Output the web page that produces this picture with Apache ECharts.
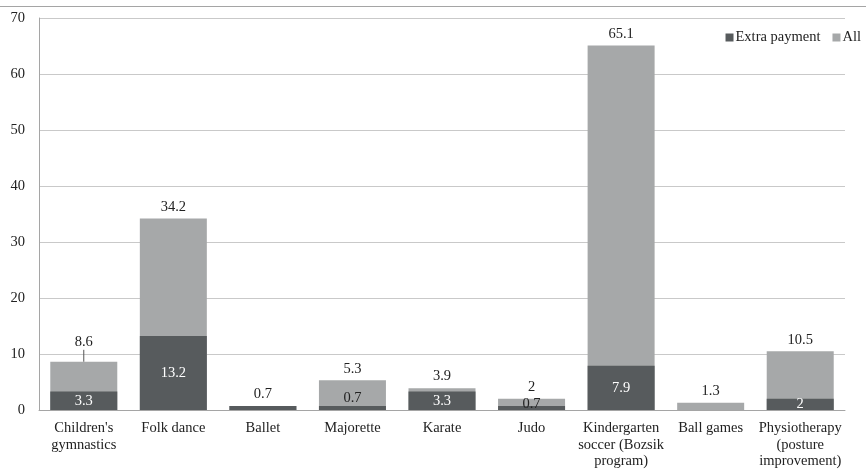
<!DOCTYPE html>
<html>
<head>
<meta charset="utf-8">
<script src="https://cdn.jsdelivr.net/npm/echarts@6/dist/echarts.min.js"></script>
<style>
  html, body { margin: 0; padding: 0; background: #fff; }
  #chart { width: 866px; height: 469px; }
</style>
</head>
<body>
<div id="chart"></div>
<script>
// Activity categories (line breaks as shown under the axis)
const categories = [
  "Children's\ngymnastics",
  "Folk dance",
  "Ballet",
  "Majorette",
  "Karate",
  "Judo",
  "Kindergarten\nsoccer (Bozsik\nprogram)",
  "Ball games",
  "Physiotherapy\n(posture\nimprovement)"
];
// Percent of children attending, all and with extra payment
const allValues = [8.6, 34.2, 0.7, 5.3, 3.9, 2, 65.1, 1.3, 10.5];
const extraValues = [3.3, 13.2, 0.7, 0.7, 3.3, 0.7, 7.9, 0, 2];
const yTicks = [0, 10, 20, 30, 40, 50, 60, 70];

const DARK = '#575b5d';
const LIGHT = '#a6a8a9';
const FONT = '"Liberation Serif", "Times New Roman", serif';

// The first "All" label sits a little higher, tied to its bar by a short guide line
const allData = allValues.map((v, i) => {
  const item = { value: v };
  if (i === 0) {
    item.labelLine = { show: true, lineStyle: { color: '#555', width: 1 } };
  }
  return item;
});

// Per-bar label tweaks for the extra-payment series
const extraData = extraValues.map((v, i) => {
  const item = { value: v };
  if (i === 2 || v === 0) {
    item.label = { show: false };
  } else if (i === 3) {
    item.label = { color: '#222', offset: [0, -10] };
  } else if (i === 5) {
    item.label = { color: '#222', offset: [0, -4] };
  }
  return item;
});

const chart = echarts.init(document.getElementById('chart'));
chart.setOption({
  animation: false,
  textStyle: { fontFamily: FONT },
  grid: { left: 39, right: 21, top: 18, bottom: 59, containLabel: false, outerBoundsMode: 'none' },
  legend: {
    data: ['Extra payment', 'All'],
    right: 0,
    top: 25,
    itemWidth: 8,
    itemHeight: 8,
    itemGap: 12,
    icon: 'rect',
    textStyle: { fontFamily: FONT, fontSize: 14.5, color: '#222', padding: [0, 0, 0, -3] }
  },
  xAxis: {
    type: 'category',
    data: categories,
    axisLine: { lineStyle: { color: '#a5a5a5', width: 1 } },
    axisTick: { show: false },
    axisLabel: { color: '#222', fontFamily: FONT, fontSize: 14.5, lineHeight: 16.5, margin: 10, interval: 0 }
  },
  yAxis: {
    type: 'value',
    min: yTicks[0],
    max: yTicks[yTicks.length - 1],
    interval: 10,
    axisLine: { show: true, lineStyle: { color: '#a5a5a5', width: 1 } },
    axisTick: { show: false },
    splitLine: { lineStyle: { color: '#c9c9c9', width: 1 } },
    axisLabel: { color: '#222', fontFamily: FONT, fontSize: 14.5, margin: 14 }
  },
  graphic: [{
    type: 'line',
    shape: { x1: 0, y1: 6.5, x2: 866, y2: 6.5 },
    style: { stroke: '#a5a5a5', lineWidth: 1 },
    silent: true
  }],
  series: [
    {
      name: 'All',
      type: 'bar',
      data: allData,
      barWidth: 67,
      barGap: '-100%',
      itemStyle: { color: LIGHT },
      z: 2,
      label: {
        show: true,
        position: 'top',
        distance: 4,
        color: '#222',
        fontFamily: FONT,
        fontSize: 14.5
      },
      labelLine: { show: false },
      labelLayout: function (p) {
        return p.dataIndex === 0 ? { dy: -8 } : {};
      }
    },
    {
      name: 'Extra payment',
      type: 'bar',
      data: extraData,
      barWidth: 67,
      barGap: '-100%',
      itemStyle: { color: DARK },
      z: 3,
      label: {
        show: true,
        position: 'inside',
        color: '#fff',
        fontFamily: FONT,
        fontSize: 14.5
      }
    }
  ]
});
</script>
</body>
</html>
